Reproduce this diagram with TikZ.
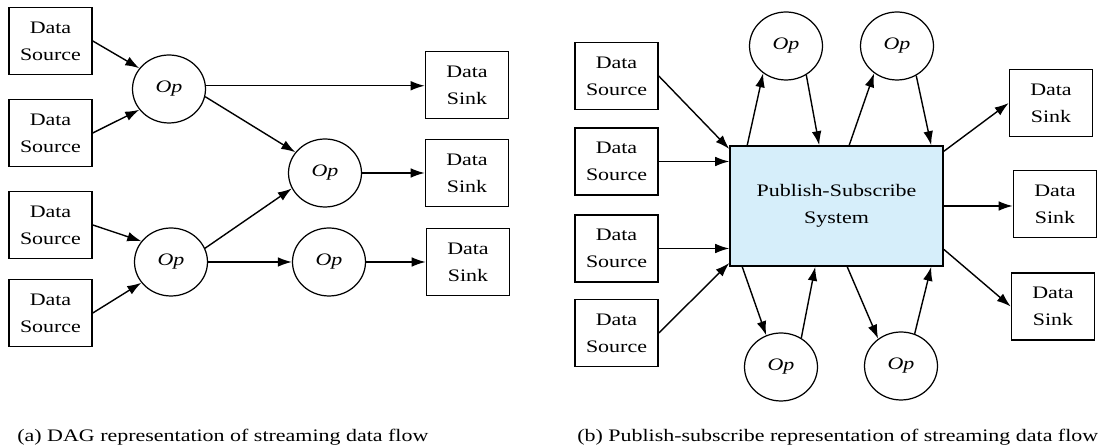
\documentclass[tikz,border=0pt]{standalone}
\usepackage{fontspec}
\setmainfont{Liberation Serif}[FakeStretch=1.25]
\usetikzlibrary{shapes.geometric,arrows.meta}
\definecolor{psblue}{RGB}{214,238,250}

\begin{document}
\begin{tikzpicture}[x=0.02cm,y=-0.02cm,>={Latex[length=8pt,width=5.5pt]},
  every node/.style={font=\fontsize{10}{15.3}\selectfont},
  box/.style={draw, line width=0.9pt, minimum width=1.66cm, minimum height=1.34cm, inner sep=1pt, align=center},
  op/.style={draw, ellipse, line width=0.7pt, minimum width=1.46cm, minimum height=1.36cm, inner sep=0pt, font=\fontsize{10}{15.3}\selectfont\itshape},
  pubsub/.style={draw, line width=0.9pt, fill=psblue, minimum width=4.26cm, minimum height=2.4cm, align=center},
  flow/.style={->, line width=0.8pt},
  caption/.style={anchor=base west, inner sep=0pt}]
\useasboundingbox (0,0) rectangle (1102,448);

\node[box] (src1) at (50.5,41) {Data\\Source};
\node[box] (src2) at (50.5,133) {Data\\Source};
\node[box] (src3) at (50.5,225) {Data\\Source};
\node[box] (src4) at (50.5,313) {Data\\Source};

\node[op] (op1) at (169,89) {Op};
\node[op] (op2) at (171,262) {Op};
\node[op] (opm) at (325,173) {Op};
\node[op] (opl) at (329,262) {Op};

\node[box] (snk1) at (467,85) {Data\\Sink};
\node[box] (snk2) at (467,173) {Data\\Sink};
\node[box] (snk3) at (468,262) {Data\\Sink};

\draw[flow] (src1.east) -- (op1.145);
\draw[flow] (src2.east) -- (op1.215);
\draw[flow] (src3.east) -- (op2.145);
\draw[flow] (src4.east) -- (op2.215);
\draw[flow] (op1.5) -- (op1.5 -| snk1.west);
\draw[flow] (op1.-12) -- (opm.145);
\draw[flow] (op2.22) -- (opm.205);
\draw[flow] (op2) -- (opl);
\draw[flow] (opm) -- (snk2);
\draw[flow] (opl) -- (snk3);

\node[box] (srcA) at (616.5,76) {Data\\Source};
\node[box] (srcB) at (616.5,161.5) {Data\\Source};
\node[box] (srcC) at (616.5,248.5) {Data\\Source};
\node[box] (srcD) at (616.5,333) {Data\\Source};

\node[pubsub] (pub) at (836.5,206) {Publish-Subscribe\\System};

\node[op] (opTL) at (786,46) {Op};
\node[op] (opTR) at (897,46) {Op};
\node[op] (opBL) at (781,367) {Op};
\node[op] (opBR) at (901,366) {Op};

\node[box] (snkA) at (1051,103) {Data\\Sink};
\node[box] (snkB) at (1055,204) {Data\\Sink};
\node[box] (snkC) at (1053,306.5) {Data\\Sink};

\draw[flow] (srcA.east) -- (pub.152);
\draw[flow] (srcB.east) -- (srcB.east -| pub.west);
\draw[flow] (srcC.east) -- (srcC.east -| pub.west);
\draw[flow] (srcD.east) -- (pub.208);
\draw[flow] ([xshift=0.36cm]pub.north west) -- (opTL.230);
\draw[flow] (opTL.-55) -- ([xshift=1.8cm]pub.north west);
\draw[flow] ([xshift=2.4cm]pub.north west) -- (opTR.230);
\draw[flow] (opTR.-57) -- ([xshift=4.04cm]pub.north west);
\draw[flow] ([xshift=0.26cm]pub.south west) -- (opBL.115);
\draw[flow] (opBL.55) -- ([xshift=1.72cm]pub.south west);
\draw[flow] ([xshift=2.36cm]pub.south west) -- (opBR.130);
\draw[flow] (opBR.67) -- ([xshift=4.04cm]pub.south west);
\draw[flow] (pub.27) -- (snkA.west);
\draw[flow] (pub.east) -- (pub.east -| snkB.west);
\draw[flow] (pub.-22) -- (snkC.west);

\node[caption] (capa) at (17,442) {(a) DAG representation of streaming data flow};
\node[caption] (capb) at (577,442) {(b) Publish-subscribe representation of streaming data flow};
\end{tikzpicture}
\end{document}
